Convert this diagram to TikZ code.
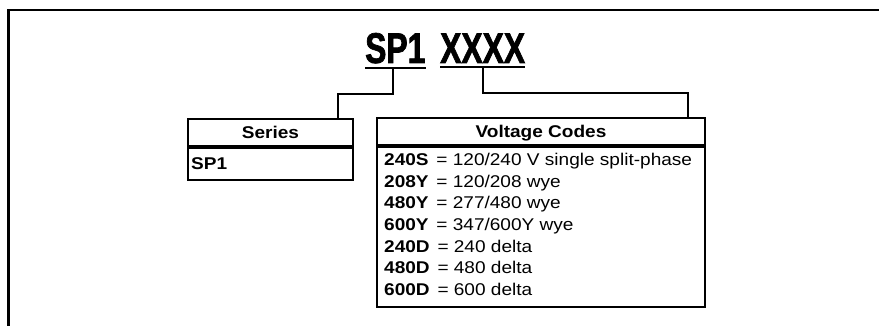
\documentclass[tikz,border=0pt]{standalone}
\usepackage{fontspec}
\setmainfont{Liberation Sans}[FakeStretch=1.12,BoldFont=Liberation Sans Bold]
\newfontfamily\condfont{Liberation Sans Bold}[FakeStretch=0.74,FakeBold=1.6]
\newcommand\eqsep{\hspace{2.5pt} = }
\begin{document}
\begin{tikzpicture}[x=1pt,y=-1pt,
  frame/.style={line width=2.6pt},
  conn/.style={line width=2pt},
  box/.style={draw,line width=2pt,inner sep=0pt,anchor=north west},
  head/.style={text height=12.3pt,text depth=0pt},
  titletext/.style={inner xsep=0pt,inner ysep=4pt,font=\condfont\fontsize{43}{43}\selectfont},
  bodyfont/.style={font=\fontsize{17}{21.5}\selectfont},
  line/.style={anchor=base west,inner sep=0pt,bodyfont}
]
\useasboundingbox (0,0) rectangle (879,326);
\draw[frame] (8.5,327) -- (8.5,10) -- (880,10);

\node[titletext,anchor=base west] (sp) at (365,63) {SP1};
\node[titletext,anchor=base west] (xx) at (440,63) {XXXX};
\draw[conn] (sp.south west) -- (sp.south east);
\draw[conn] (xx.south west) -- (xx.south east);

% Series table
\node[box,head,minimum width=165pt,minimum height=27pt,bodyfont] (serieshead) at (187,118) {\bfseries Series};
\node[box,minimum width=165pt,minimum height=32pt] (seriesbody) at (serieshead.south west) {};
\node[line] (s1) at (191,170) {\bfseries SP1};

% Voltage table
\node[box,head,minimum width=328pt,minimum height=27pt,bodyfont] (volthead) at (376,117) {\bfseries Voltage Codes};
\node[box,minimum width=328pt,minimum height=160pt] (voltbody) at (volthead.south west) {};
\node[line] (v1) at (384,166) {\textbf{240S}\eqsep120/240 V single split-phase};
\node[line] (v2) at (384,187.5) {\textbf{208Y}\eqsep120/208 wye};
\node[line] (v3) at (384,209) {\textbf{480Y}\eqsep277/480 wye};
\node[line] (v4) at (384,230.5) {\textbf{600Y}\eqsep347/600Y wye};
\node[line] (v5) at (384,252) {\textbf{240D}\eqsep240 delta};
\node[line] (v6) at (384,273.5) {\textbf{480D}\eqsep480 delta};
\node[line] (v7) at (384,295) {\textbf{600D}\eqsep600 delta};

% connectors
\draw[conn] ([xshift=-2.5pt]sp.south) -- ++(0,26) -| ([xshift=-16pt]serieshead.north east);
\draw[conn] (xx.south) -- ++(0,26) -| ([xshift=-18pt]volthead.north east);
\end{tikzpicture}
\end{document}
